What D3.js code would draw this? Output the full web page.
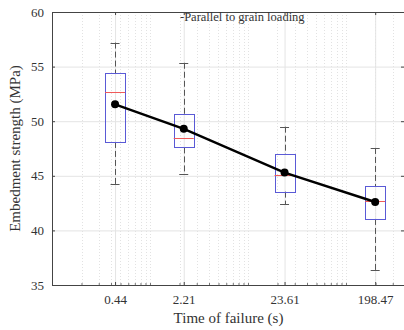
<!DOCTYPE html>
<html>
<head>
<meta charset="utf-8">
<script src="https://cdn.jsdelivr.net/npm/d3@7"></script>
<style>
  body { margin: 0; background: #fff; }
  svg { display: block; }
  text { font-family: "Liberation Serif", "DejaVu Serif", serif; fill: #333; }
</style>
</head>
<body>
<script>
// data
const times = [0.44, 2.21, 23.61, 198.47];
const tickLabels = ["0.44", "2.21", "23.61", "198.47"];
const whiskerHigh = [57.2, 55.35, 49.5, 47.55];
const q3 = [54.4, 50.65, 47.0, 44.05];
const medians = [52.7, 48.5, 45.1, 42.7];
const q1 = [48.1, 47.6, 43.55, 41.05];
const whiskerLow = [44.25, 45.15, 42.4, 36.35];
const means = [51.55, 49.3, 45.3, 42.6];
const yTicks = [35, 40, 45, 50, 55, 60];

const W = 404, H = 330;
const pL = 52, pR = 405, pT = 12, pB = 285;

var svg = d3.select("body").append("svg").attr("width", W).attr("height", H);

var x = d3.scaleLog().domain([0.1, 400]).range([pL, pR]);
var y = d3.scaleLinear().domain([35, 60]).range([pB, pT]);

// minor log grid (dotted)
var minor = [];
for (var e = -1; e <= 2; e++) {
  for (var k = 1; k <= 9; k++) {
    var v = k * Math.pow(10, e);
    if (v > 0.1 && v < 400) minor.push(v);
  }
}
svg.append("g").selectAll("line").data(minor).join("line")
  .attr("x1", d => Math.round(x(d)) + 0.5).attr("x2", d => Math.round(x(d)) + 0.5)
  .attr("y1", pT).attr("y2", pB)
  .attr("stroke", "#e2e2e2").attr("stroke-width", 1).attr("stroke-dasharray", "1,2");

// major grid
svg.append("g").attr("transform", `translate(0,${pB})`)
  .call(d3.axisBottom(x).tickValues(times).tickSize(-(pB - pT)).tickFormat(""))
  .call(g => g.select(".domain").remove())
  .selectAll("line").attr("stroke", "#e4e4e4");
svg.append("g").attr("transform", `translate(${pL},0)`)
  .call(d3.axisLeft(y).tickValues(yTicks).tickSize(-(pR - pL)).tickFormat(""))
  .call(g => g.select(".domain").remove())
  .selectAll("line").attr("stroke", "#e4e4e4");

// box plots
var boxW = 20, capW = 9;
var boxes = svg.append("g").selectAll("g").data(times).join("g");

boxes.append("line")
  .attr("x1", d => Math.round(x(d)) + 0.5).attr("x2", d => Math.round(x(d)) + 0.5)
  .attr("y1", (d, i) => y(whiskerHigh[i])).attr("y2", (d, i) => y(q3[i]))
  .attr("stroke", "#555").attr("stroke-dasharray", "6,3");
boxes.append("line")
  .attr("x1", d => Math.round(x(d)) + 0.5).attr("x2", d => Math.round(x(d)) + 0.5)
  .attr("y1", (d, i) => y(q1[i])).attr("y2", (d, i) => y(whiskerLow[i]))
  .attr("stroke", "#555").attr("stroke-dasharray", "6,3");
boxes.append("line")
  .attr("x1", d => x(d) - capW / 2).attr("x2", d => x(d) + capW / 2)
  .attr("y1", (d, i) => Math.round(y(whiskerHigh[i])) + 0.5).attr("y2", (d, i) => Math.round(y(whiskerHigh[i])) + 0.5)
  .attr("stroke", "#555");
boxes.append("line")
  .attr("x1", d => x(d) - capW / 2).attr("x2", d => x(d) + capW / 2)
  .attr("y1", (d, i) => Math.round(y(whiskerLow[i])) + 0.5).attr("y2", (d, i) => Math.round(y(whiskerLow[i])) + 0.5)
  .attr("stroke", "#555");
boxes.append("rect")
  .attr("x", d => Math.round(x(d) - boxW / 2) + 0.5)
  .attr("y", (d, i) => Math.round(y(q3[i])) + 0.5)
  .attr("width", boxW)
  .attr("height", (d, i) => Math.round(y(q1[i])) - Math.round(y(q3[i])))
  .attr("fill", "none").attr("stroke", "#5a5ad6");
boxes.append("line")
  .attr("x1", d => x(d) - boxW / 2).attr("x2", d => x(d) + boxW / 2)
  .attr("y1", (d, i) => Math.round(y(medians[i])) + 0.5).attr("y2", (d, i) => Math.round(y(medians[i])) + 0.5)
  .attr("stroke", "#f05a5a");

// mean line
var line = d3.line().x(d => x(d[0])).y(d => y(d[1]));
var pts = times.map((t, i) => [t, means[i]]);
svg.append("path").datum(pts).attr("d", line)
  .attr("fill", "none").attr("stroke", "#000").attr("stroke-width", 2.4);
svg.append("g").selectAll("circle").data(pts).join("circle")
  .attr("cx", d => x(d[0])).attr("cy", d => y(d[1])).attr("r", 4).attr("fill", "#000");

// axes
var axisColor = "#444";
svg.append("g").attr("transform", `translate(0,${pB})`)
  .call(d3.axisBottom(x).tickValues(times).tickSize(-3).tickPadding(10).tickFormat((d, i) => tickLabels[i]))
  .call(g => g.select(".domain").attr("stroke", axisColor).attr("d", `M${pL},0.5H${pR}`))
  .call(g => g.selectAll("line").attr("stroke", axisColor))
  .call(g => g.selectAll("text").attr("font-size", 13).attr("font-family", "Liberation Serif").attr("fill", "#333"));
svg.append("g").attr("transform", `translate(0,${pB})`)
  .call(d3.axisBottom(x).tickValues(minor).tickSize(-2).tickFormat(""))
  .call(g => g.select(".domain").remove())
  .selectAll("line").attr("stroke", "#777");
svg.append("g").attr("transform", `translate(0,${pT})`)
  .call(d3.axisTop(x).tickValues(times).tickSize(-3).tickFormat(""))
  .call(g => g.select(".domain").attr("stroke", axisColor).attr("d", `M${pL},0.5H${pR}`))
  .selectAll("line").attr("stroke", axisColor);

svg.append("g").attr("transform", `translate(${pL},0)`)
  .call(d3.axisLeft(y).tickValues(yTicks).tickSize(-3).tickPadding(8))
  .call(g => g.select(".domain").attr("stroke", axisColor).attr("d", `M0.5,${pT}V${pB}`))
  .call(g => g.selectAll("line").attr("stroke", axisColor))
  .call(g => g.selectAll("text").attr("font-size", 13).attr("font-family", "Liberation Serif").attr("fill", "#333"));
svg.append("g").attr("transform", `translate(${pR - 1},0)`)
  .call(d3.axisRight(y).tickValues(yTicks).tickSize(-3).tickFormat(""))
  .call(g => g.select(".domain").attr("stroke", axisColor).attr("d", `M0.5,${pT}V${pB}`))
  .selectAll("line").attr("stroke", axisColor);

// labels
svg.append("text")
  .attr("x", (pL + pR) / 2).attr("y", 323)
  .attr("text-anchor", "middle").attr("font-size", 15)
  .text("Time of failure (s)");
svg.append("text")
  .attr("transform", `translate(20,${(pT + pB) / 2}) rotate(-90)`)
  .attr("text-anchor", "middle").attr("font-size", 15)
  .text("Embedment strength (MPa)");
svg.append("text")
  .attr("x", 180).attr("y", 21)
  .attr("font-size", 12.5).attr("fill", "#111")
  .text("-Parallel to grain loading");
</script>
</body>
</html>
